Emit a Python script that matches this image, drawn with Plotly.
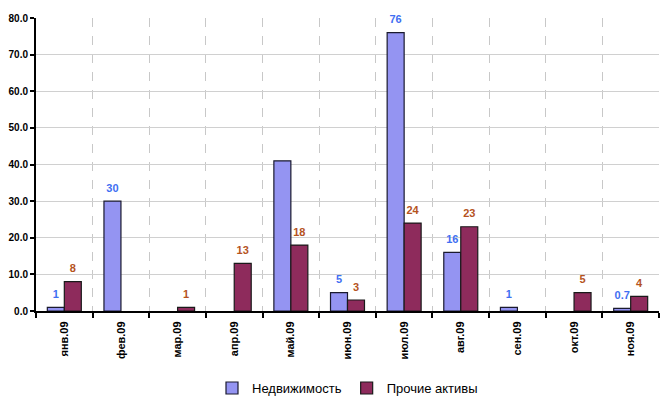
import plotly.graph_objects as go

months = ["янв.09", "фев.09", "мар.09", "апр.09", "май.09", "июн.09",
          "июл.09", "авг.09", "сен.09", "окт.09", "ноя.09"]

# None = no data for the month
realty = [1, 30, None, None, 41, 5, 76, 16, 1, None, 0.7]
realty_labels = ["1", "30", "", "", "", "5", "76", "16", "1", "", "0.7"]

other = [8, None, 1, 13, 18, 3, 24, 23, None, 5, 4]
other_labels = ["8", "", "1", "13", "18", "3", "24", "23", "", "5", "4"]

FONT = "Arial, Liberation Sans, sans-serif"
BLUE, BLUE_TXT = "#9494f2", "#3f6ff2"
RED, RED_TXT = "#8e2b5c", "#b5531e"

fig = go.Figure()
fig.add_trace(go.Bar(
    name="Недвижимость", x=months, y=realty,
    marker=dict(color=BLUE, line=dict(color="#1a1a2e", width=1.2)),
))
fig.add_trace(go.Bar(
    name="Прочие активы", x=months, y=other,
    marker=dict(color=RED, line=dict(color="#1a1a1a", width=1.2)),
))

# value labels, grouped the same way as the bars
for vals, labels, col in [(realty, realty_labels, BLUE_TXT), (other, other_labels, RED_TXT)]:
    fig.add_trace(go.Scatter(
        x=months, y=vals, text=labels, mode="markers+text",
        textposition="top center", cliponaxis=False, showlegend=False,
        hoverinfo="skip",
        marker=dict(size=9, color="rgba(0,0,0,0)"),
        textfont=dict(family=FONT, size=11, color=col, weight="bold"),
    ))

fig.update_layout(
    width=663, height=398,
    margin=dict(l=36, r=4, t=18, b=87, autoexpand=False),
    paper_bgcolor="white", plot_bgcolor="white",
    barmode="group", bargap=0.4, bargroupgap=0,
    scattermode="group", scattergap=0.4,
    font=dict(family=FONT, color="black"),
    showlegend=True,
    legend=dict(orientation="h", x=0.5, xanchor="center",
                yref="container", y=0.025, yanchor="middle",
                font=dict(size=13, family=FONT), itemwidth=30, traceorder="normal"),
)

fig.update_xaxes(
    type="category", tickson="boundaries", tickangle=-90, automargin=False,
    tickfont=dict(size=11, family=FONT, weight="bold"),
    ticklabelstandoff=4,
    showline=True, linecolor="black", linewidth=2,
    ticks="outside", ticklen=5, tickwidth=2, tickcolor="black",
    showgrid=True, gridcolor="#c8c8c8", griddash="dash", gridwidth=1,
)
fig.update_yaxes(
    range=[0, 80], dtick=10, tickformat=".1f", automargin=False,
    tickfont=dict(size=10, family=FONT, weight="bold"),
    showline=True, linecolor="black", linewidth=2,
    ticks="outside", ticklen=4, tickwidth=2, tickcolor="black",
    showgrid=True, gridcolor="#d0d0d0", gridwidth=1,
    zeroline=False,
)

fig.write_html("out.html")
